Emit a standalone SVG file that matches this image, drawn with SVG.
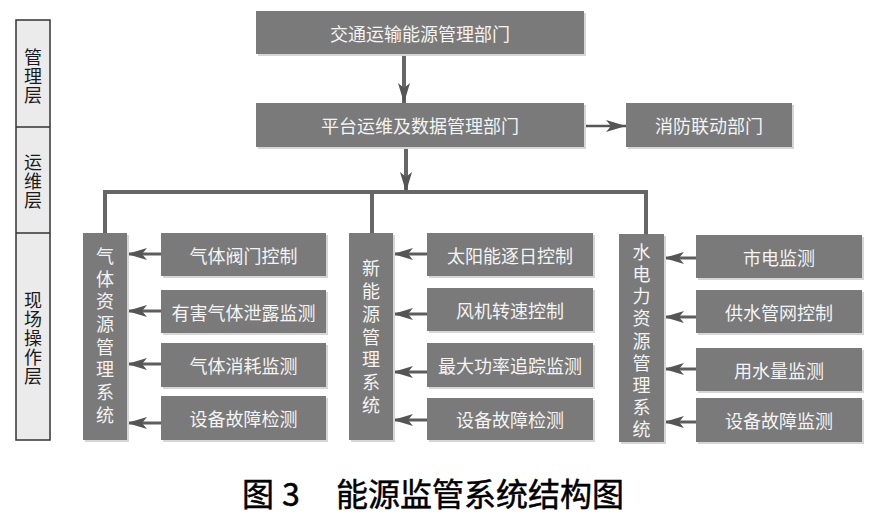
<svg xmlns="http://www.w3.org/2000/svg" width="876" height="522" viewBox="0 0 876 522">
<style>
.box{fill:#7a7a7a;}
.sh{fill:#d6d6d6;}
.t{font-family:"Noto Sans CJK SC","Noto Sans",sans-serif;font-size:18px;fill:#f4f4f4;text-anchor:middle;dominant-baseline:central;}
.lt{font-family:"Noto Sans CJK SC","Noto Sans",sans-serif;font-size:18px;fill:#1a1a1a;text-anchor:middle;dominant-baseline:central;}
.cap{font-family:"Noto Sans CJK SC","Noto Sans",sans-serif;font-size:32px;font-weight:400;fill:#000;stroke:#000;stroke-width:0.5;}
.ln{stroke:#666;stroke-width:4;fill:none;}
.ar{stroke:#5e5e5e;stroke-width:3;fill:none;}
</style>
<defs>
<marker id="ah" markerUnits="userSpaceOnUse" markerWidth="21" markerHeight="12" refX="20" refY="6" orient="auto">
<path d="M0,0 L20,6 L0,12 L5,6 z" fill="#555"/>
</marker>
</defs>
<rect width="876" height="522" fill="#fff"/>

<g id="layers">
<rect x="16" y="20" width="34" height="420" fill="#ebebeb" stroke="#333" stroke-width="1.5"/>
<line x1="16" y1="127" x2="50" y2="127" stroke="#333" stroke-width="1.5"/>
<line x1="16" y1="233" x2="50" y2="233" stroke="#333" stroke-width="1.5"/>
<text class="lt"><tspan x="33" y="56">管</tspan><tspan x="33" y="75">理</tspan><tspan x="33" y="94">层</tspan></text>
<text class="lt"><tspan x="33" y="161">运</tspan><tspan x="33" y="180">维</tspan><tspan x="33" y="199">层</tspan></text>
<text class="lt"><tspan x="33" y="299">现</tspan><tspan x="33" y="318">场</tspan><tspan x="33" y="337">操</tspan><tspan x="33" y="356">作</tspan><tspan x="33" y="375">层</tspan></text>
</g>

<g id="connectors">
<line class="ln" x1="404" y1="54" x2="404" y2="103" marker-end="url(#ah)"/>
<line class="ln" x1="406" y1="147" x2="406" y2="192" marker-end="url(#ah)"/>
<polyline class="ln" points="105,233 105,192 646,192 646,234"/>
<line class="ln" x1="372" y1="192" x2="372" y2="233"/>
<line stroke="#555" stroke-width="2.5" x1="584" y1="126" x2="626" y2="126" marker-end="url(#ah)"/>
<line class="ar" x1="161" y1="254" x2="127" y2="254" marker-end="url(#ah)"/>
<line class="ar" x1="161" y1="311" x2="127" y2="311" marker-end="url(#ah)"/>
<line class="ar" x1="161" y1="364" x2="127" y2="364" marker-end="url(#ah)"/>
<line class="ar" x1="161" y1="423" x2="127" y2="423" marker-end="url(#ah)"/>
<line class="ar" x1="427" y1="254" x2="393" y2="254" marker-end="url(#ah)"/>
<line class="ar" x1="427" y1="314" x2="393" y2="314" marker-end="url(#ah)"/>
<line class="ar" x1="427" y1="372" x2="393" y2="372" marker-end="url(#ah)"/>
<line class="ar" x1="427" y1="420" x2="393" y2="420" marker-end="url(#ah)"/>
<line class="ar" x1="696" y1="258" x2="664" y2="258" marker-end="url(#ah)"/>
<line class="ar" x1="696" y1="317" x2="664" y2="317" marker-end="url(#ah)"/>
<line class="ar" x1="696" y1="369" x2="664" y2="369" marker-end="url(#ah)"/>
<line class="ar" x1="696" y1="422" x2="664" y2="422" marker-end="url(#ah)"/>
</g>

<g id="n-top"><rect class="sh" x="258" y="13" width="328" height="43"/><rect class="box" x="256" y="11" width="328" height="43"/><text class="t" x="420" y="33">交通运输能源管理部门</text></g>
<g id="n-platform"><rect class="sh" x="258" y="105" width="328" height="44"/><rect class="box" x="256" y="103" width="328" height="44"/><text class="t" x="420" y="125">平台运维及数据管理部门</text></g>
<g id="n-fire"><rect class="sh" x="628" y="105" width="166" height="44"/><rect class="box" x="626" y="103" width="166" height="44"/><text class="t" x="709" y="125">消防联动部门</text></g>

<g id="n-gas"><rect class="sh" x="85" y="235" width="44" height="207"/><rect class="box" x="83" y="233" width="44" height="207"/>
<text class="t"><tspan x="105" y="255">气</tspan><tspan x="105" y="278">体</tspan><tspan x="105" y="300">资</tspan><tspan x="105" y="323">源</tspan><tspan x="105" y="346">管</tspan><tspan x="105" y="368">理</tspan><tspan x="105" y="391">系</tspan><tspan x="105" y="414">统</tspan></text></g>
<g id="n-gas1"><rect class="sh" x="163" y="235" width="165" height="43"/><rect class="box" x="161" y="233" width="165" height="43"/><text class="t" x="243.5" y="254.5">气体阀门控制</text></g>
<g id="n-gas2"><rect class="sh" x="163" y="292" width="165" height="43"/><rect class="box" x="161" y="290" width="165" height="43"/><text class="t" x="243.5" y="311.5">有害气体泄露监测</text></g>
<g id="n-gas3"><rect class="sh" x="163" y="345" width="165" height="44"/><rect class="box" x="161" y="343" width="165" height="44"/><text class="t" x="243.5" y="365">气体消耗监测</text></g>
<g id="n-gas4"><rect class="sh" x="163" y="398" width="165" height="44"/><rect class="box" x="161" y="396" width="165" height="44"/><text class="t" x="243.5" y="418">设备故障检测</text></g>

<g id="n-new"><rect class="sh" x="351" y="235" width="44" height="207"/><rect class="box" x="349" y="233" width="44" height="207"/>
<text class="t"><tspan x="371" y="267">新</tspan><tspan x="371" y="290">能</tspan><tspan x="371" y="313">源</tspan><tspan x="371" y="336">管</tspan><tspan x="371" y="358">理</tspan><tspan x="371" y="381">系</tspan><tspan x="371" y="404">统</tspan></text></g>
<g id="n-new1"><rect class="sh" x="429" y="235" width="166" height="43"/><rect class="box" x="427" y="233" width="166" height="43"/><text class="t" x="510" y="254.5">太阳能逐日控制</text></g>
<g id="n-new2"><rect class="sh" x="429" y="290" width="166" height="43"/><rect class="box" x="427" y="288" width="166" height="43"/><text class="t" x="510" y="309.5">风机转速控制</text></g>
<g id="n-new3"><rect class="sh" x="429" y="345" width="166" height="44"/><rect class="box" x="427" y="343" width="166" height="44"/><text class="t" x="510" y="365">最大功率追踪监测</text></g>
<g id="n-new4"><rect class="sh" x="429" y="400" width="166" height="42"/><rect class="box" x="427" y="398" width="166" height="42"/><text class="t" x="510" y="419">设备故障检测</text></g>

<g id="n-water"><rect class="sh" x="621" y="236" width="45" height="208"/><rect class="box" x="619" y="234" width="45" height="208"/>
<text class="t"><tspan x="641.5" y="251">水</tspan><tspan x="641.5" y="273">电</tspan><tspan x="641.5" y="295">力</tspan><tspan x="641.5" y="317">资</tspan><tspan x="641.5" y="340">源</tspan><tspan x="641.5" y="362">管</tspan><tspan x="641.5" y="384">理</tspan><tspan x="641.5" y="406">系</tspan><tspan x="641.5" y="428">统</tspan></text></g>
<g id="n-w1"><rect class="sh" x="698" y="237" width="166" height="43"/><rect class="box" x="696" y="235" width="166" height="43"/><text class="t" x="779" y="256.5">市电监测</text></g>
<g id="n-w2"><rect class="sh" x="698" y="292" width="166" height="43"/><rect class="box" x="696" y="290" width="166" height="43"/><text class="t" x="779" y="311.5">供水管网控制</text></g>
<g id="n-w3"><rect class="sh" x="698" y="350" width="166" height="43"/><rect class="box" x="696" y="348" width="166" height="43"/><text class="t" x="779" y="369.5">用水量监测</text></g>
<g id="n-w4"><rect class="sh" x="698" y="400" width="166" height="44"/><rect class="box" x="696" y="398" width="166" height="44"/><text class="t" x="779" y="420">设备故障监测</text></g>

<g id="caption">
<text class="cap" x="242" y="506">图</text>
<text class="cap" x="282" y="506">3</text>
<text class="cap" x="336" y="506">能源监管系统结构图</text>
</g>
</svg>
